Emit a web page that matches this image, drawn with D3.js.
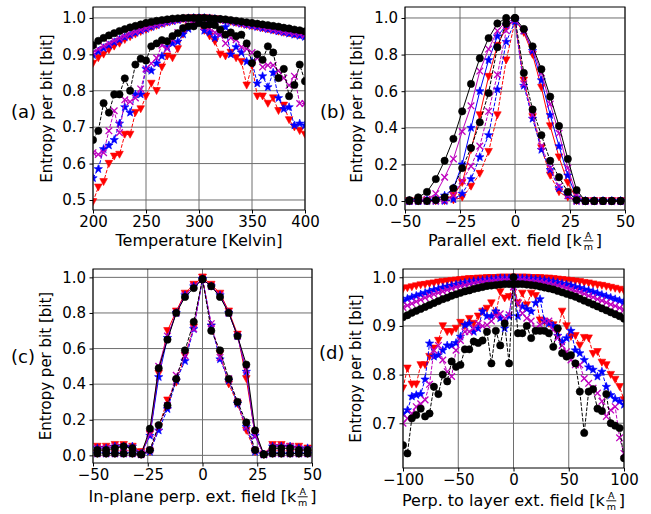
<!DOCTYPE html>
<html>
<head>
<meta charset="utf-8">
<script src="https://cdn.jsdelivr.net/npm/d3@7"></script>
<style>
  body { margin: 0; background: #fff; }
  svg { display: block; font-family: 'DejaVu Sans', sans-serif; }
</style>
</head>
<body>
<div id="chart"></div>
<script>
document.addEventListener('DOMContentLoaded', init, false);

var width = 651;
var height = 514;

// ---- panel (a): temperature sweep, 200..400 K every 5 K
var aTemp = d3.range(200, 401, 5);
var aRedUp = [0.875,0.89,0.90,0.912,0.922,0.93,0.94,0.948,0.955,0.962,0.968,0.974,0.979,0.984,0.988,0.992,0.995,0.997,0.999,1.0,1.0,1.0,0.999,0.997,0.995,0.993,0.99,0.987,0.984,0.981,0.978,0.975,0.972,0.969,0.966,0.963,0.96,0.958,0.955,0.953,0.95];
var aBlueUp = [0.898,0.908,0.917,0.925,0.933,0.94,0.947,0.953,0.959,0.965,0.97,0.975,0.98,0.984,0.988,0.991,0.994,0.997,0.999,1.0,1.0,1.0,0.999,0.997,0.995,0.993,0.99,0.987,0.984,0.981,0.978,0.975,0.972,0.969,0.966,0.963,0.96,0.957,0.954,0.951,0.948];
var aMagUp = [0.905,0.914,0.922,0.93,0.937,0.944,0.95,0.956,0.962,0.967,0.972,0.977,0.981,0.985,0.989,0.992,0.995,0.997,0.999,1.0,1.0,1.0,0.999,0.997,0.995,0.993,0.991,0.988,0.985,0.982,0.98,0.977,0.974,0.971,0.968,0.965,0.962,0.96,0.957,0.955,0.953];
var aBlackUp = [0.925,0.937,0.945,0.952,0.958,0.964,0.969,0.974,0.978,0.982,0.986,0.989,0.992,0.994,0.996,0.998,0.999,1.0,1.0,1.0,1.0,1.0,0.999,0.998,0.997,0.996,0.994,0.992,0.99,0.988,0.986,0.984,0.982,0.98,0.978,0.976,0.973,0.971,0.968,0.966,0.963];
var aRedLow = [0.495,0.535,0.55,0.60,0.62,0.625,0.68,0.68,0.74,0.75,0.785,0.82,0.80,0.865,0.895,0.89,0.915,0.955,0.975,0.985,0.99,0.965,0.95,0.935,0.90,0.895,0.905,0.89,0.88,0.815,0.87,0.785,0.785,0.765,0.78,0.745,0.76,0.72,0.70,0.69,0.68];
var aBlueLow = [0.56,0.585,0.64,0.65,0.665,0.71,0.755,0.74,0.79,0.79,0.86,0.855,0.875,0.895,0.92,0.93,0.935,0.955,0.97,0.98,0.985,0.965,0.96,0.945,0.955,0.975,0.90,0.92,0.905,0.88,0.88,0.82,0.84,0.81,0.85,0.78,0.75,0.755,0.705,0.71,0.705];
var aMagLow = [0.63,0.625,0.63,0.69,0.745,0.685,0.775,0.77,0.78,0.805,0.86,0.875,0.89,0.925,0.915,0.94,0.96,0.97,0.98,0.985,0.99,0.975,0.97,0.96,0.955,0.93,0.945,0.94,0.92,0.915,0.905,0.89,0.865,0.87,0.87,0.855,0.835,0.815,0.84,0.765,0.765];
var aBlackLow = [0.665,0.69,0.766,0.74,0.79,0.79,0.834,0.80,0.872,0.888,0.883,0.922,0.93,0.939,0.936,0.95,0.958,0.972,0.977,0.977,0.986,0.98,0.982,0.98,0.968,0.954,0.96,0.95,0.954,0.93,0.876,0.90,0.885,0.922,0.905,0.835,0.86,0.785,0.816,0.872,0.826];

// ---- panel (b): parallel field, -48..48 kA/m every 4
var bField = d3.range(-48, 49, 4);
var bRedWide = [0,0,0,0.005,0.01,0.03,0.1,0.28,0.47,0.68,0.85,0.95,0.99,0.92,0.80,0.62,0.41,0.24,0.10,0.01,0,0,0,0,0];
var bBlueWide = [0,0,0.005,0.01,0.03,0.07,0.2,0.4,0.6,0.77,0.9,0.96,0.99,0.93,0.82,0.66,0.47,0.30,0.14,0.02,0,0,0,0,0];
var bMagWide = [0,0.005,0.01,0.04,0.13,0.23,0.38,0.52,0.71,0.83,0.93,0.98,0.99,0.93,0.83,0.70,0.53,0.37,0.18,0.03,0,0,0,0,0];
var bBlackWide = [0.005,0.02,0.05,0.12,0.22,0.34,0.49,0.64,0.78,0.89,0.97,1.0,1.0,0.94,0.845,0.72,0.57,0.41,0.23,0.06,0,0,0,0,0];
var bRedNarrow = [0,0,0,0,0,0.005,0.02,0.08,0.15,0.27,0.47,0.77,0.98,0.66,0.46,0.29,0.14,0.05,0.02,0,0,0,0,0,0];
var bBlueNarrow = [0,0,0,0,0,0.01,0.04,0.12,0.24,0.36,0.61,0.87,0.98,0.63,0.45,0.28,0.17,0.07,0.03,0,0,0,0,0,0];
var bMagNarrow = [0,0,0,0,0.005,0.03,0.11,0.19,0.30,0.49,0.69,0.93,0.99,0.64,0.47,0.30,0.18,0.08,0.03,0,0,0,0,0,0];
var bBlackNarrow = [0,0,0,0.005,0.02,0.07,0.18,0.29,0.43,0.59,0.84,0.97,1.0,0.70,0.50,0.36,0.22,0.13,0.05,0.005,0,0,0,0,0];

// ---- panel (c): in-plane perpendicular field, -48..48 every 4
var cField = d3.range(-48, 49, 4);
var cRedWide = [0.05,0.05,0.06,0.06,0.05,0.02,0.12,0.46,0.70,0.81,0.91,0.96,1.0,0.96,0.91,0.81,0.68,0.43,0.12,0.005,0.06,0.06,0.05,0.05,0.04];
var cBlueWide = [0.04,0.04,0.05,0.05,0.05,0.01,0.11,0.44,0.66,0.80,0.90,0.95,0.99,0.95,0.90,0.80,0.67,0.47,0.11,0.005,0.05,0.05,0.05,0.04,0.04];
var cMagWide = [0.04,0.04,0.05,0.05,0.04,0.01,0.12,0.50,0.67,0.80,0.90,0.95,0.99,0.95,0.90,0.80,0.67,0.48,0.11,0.005,0.05,0.05,0.05,0.04,0.03];
var cBlackWide = [0.03,0.03,0.04,0.05,0.04,0.005,0.15,0.49,0.65,0.80,0.89,0.94,0.99,0.95,0.89,0.80,0.67,0.51,0.14,0.005,0.04,0.04,0.04,0.03,0.03];
var cRedNarrow = [0.01,0.01,0.01,0.01,0.01,0.005,0.02,0.16,0.31,0.41,0.56,0.72,1.0,0.72,0.57,0.40,0.29,0.14,0.02,0.005,0.01,0.01,0.01,0.01,0.01];
var cBlueNarrow = [0.01,0.01,0.01,0.01,0.01,0.005,0.02,0.14,0.26,0.42,0.53,0.71,0.99,0.73,0.54,0.42,0.29,0.16,0.02,0.005,0.01,0.01,0.01,0.01,0.01];
var cMagNarrow = [0.01,0.01,0.01,0.01,0.01,0.005,0.03,0.16,0.28,0.45,0.56,0.71,0.99,0.74,0.55,0.43,0.30,0.16,0.03,0.005,0.01,0.01,0.01,0.01,0.01];
var cBlackNarrow = [0.01,0.01,0.01,0.01,0.01,0.005,0.03,0.17,0.28,0.43,0.59,0.75,0.99,0.70,0.59,0.43,0.30,0.185,0.03,0.005,0.01,0.01,0.01,0.01,0.01];

// ---- panel (d): perpendicular-to-layer field, -100..100 every 4
var dField = d3.range(-100, 101, 4);
var dRedUp = [0.976,0.978,0.980,0.982,0.984,0.985,0.987,0.988,0.990,0.991,0.992,0.993,0.994,0.995,0.996,0.997,0.997,0.998,0.998,0.999,0.999,0.999,1,1,1,1,1,1,1,0.999,0.999,0.999,0.998,0.998,0.997,0.996,0.995,0.994,0.993,0.992,0.991,0.989,0.988,0.986,0.984,0.983,0.981,0.979,0.977,0.975,0.972];
var dBlueUp = [0.952,0.956,0.959,0.962,0.965,0.968,0.971,0.974,0.976,0.979,0.981,0.983,0.985,0.987,0.989,0.990,0.992,0.993,0.994,0.995,0.996,0.997,0.998,0.998,0.998,0.998,0.998,0.998,0.997,0.997,0.996,0.995,0.994,0.992,0.991,0.989,0.987,0.985,0.983,0.980,0.978,0.975,0.973,0.970,0.967,0.964,0.961,0.958,0.955,0.952,0.949];
var dMagUp = [0.938,0.942,0.946,0.950,0.954,0.958,0.962,0.965,0.968,0.971,0.974,0.977,0.980,0.982,0.984,0.986,0.988,0.990,0.991,0.992,0.993,0.994,0.995,0.995,0.995,0.995,0.995,0.995,0.994,0.993,0.992,0.991,0.989,0.987,0.985,0.983,0.981,0.978,0.975,0.972,0.969,0.966,0.962,0.959,0.955,0.952,0.948,0.944,0.941,0.937,0.933];
var dBlackUp = [0.918,0.922,0.927,0.931,0.935,0.939,0.943,0.947,0.951,0.955,0.958,0.962,0.965,0.968,0.971,0.973,0.976,0.978,0.980,0.982,0.983,0.984,0.985,0.986,0.986,0.986,0.986,0.986,0.985,0.984,0.983,0.981,0.979,0.977,0.975,0.972,0.969,0.966,0.963,0.960,0.956,0.952,0.948,0.944,0.940,0.936,0.932,0.928,0.924,0.920,0.915];
var dRedLow = [0.772,0.813,0.78,0.78,0.82,0.82,0.837,0.854,0.87,0.90,0.888,0.888,0.895,0.907,0.90,0.915,0.905,0.92,0.93,0.936,0.947,0.926,0.97,0.957,0.96,
  0.99,0.947,0.967,0.943,0.967,0.962,0.912,0.909,0.905,0.902,0.888,0.93,0.90,0.878,0.88,0.86,0.876,0.875,0.843,0.847,0.825,0.82,0.80,0.79,0.775,0.748];
var dBlueLow = [0.72,0.727,0.755,0.758,0.76,0.79,0.864,0.837,0.84,0.85,0.86,0.86,0.865,0.878,0.902,0.905,0.888,0.895,0.93,0.92,0.92,0.93,0.916,0.895,0.92,
  0.985,0.92,0.94,0.935,0.93,0.947,0.955,0.91,0.905,0.90,0.88,0.868,0.875,0.89,0.85,0.844,0.83,0.815,0.81,0.796,0.806,0.775,0.758,0.75,0.745,0.738];
var dMagLow = [0.70,0.71,0.72,0.734,0.74,0.748,0.78,0.85,0.86,0.83,0.806,0.796,0.85,0.87,0.888,0.888,0.895,0.905,0.90,0.902,0.91,0.92,0.925,0.915,0.923,
  0.98,0.947,0.926,0.916,0.91,0.895,0.902,0.91,0.91,0.892,0.875,0.86,0.847,0.83,0.82,0.82,0.792,0.782,0.772,0.762,0.745,0.714,0.727,0.734,0.67,0.638];
var dBlackLow = [0.655,0.638,0.71,0.717,0.73,0.714,0.72,0.775,0.76,0.80,0.786,0.827,0.816,0.82,0.852,0.852,0.868,0.865,0.87,0.888,0.823,0.89,0.86,0.905,0.823,
  1.0,0.885,0.885,0.90,0.875,0.89,0.89,0.89,0.885,0.857,0.895,0.844,0.837,0.84,0.823,0.765,0.68,0.765,0.77,0.73,0.725,0.76,0.70,0.695,0.69,0.628];

// colour / marker per series, in draw order
var styles = [
  { color: '#ff0000', marker: 'tri' },
  { color: '#0000ff', marker: 'star' },
  { color: '#bf00bf', marker: 'x' },
  { color: '#000000', marker: 'circle' }
];

function init() {

  var svg = d3.select('#chart')
    .append('svg')
      .attr('width', width)
      .attr('height', height)
      .attr('viewBox', '0 0 ' + width + ' ' + height);

  svg.append('rect').attr('width', width).attr('height', height).attr('fill', '#fff');

  var panels = [
    {
      id: 'a', letter: '(a)', lx: 11, ly: 118,
      box: { l: 93, r: 305, t: 7, b: 210 },
      xDomain: [200, 400], yDomain: [0.4725, 1.03],
      xTicks: [200, 250, 300, 350, 400], yTicks: [0.5, 0.6, 0.7, 0.8, 0.9, 1.0],
      ylx: 52, xlab: 'Temperature [Kelvin]', frac: false, xlb: 246,
      x: aTemp,
      solid: [aRedUp, aBlueUp, aMagUp, aBlackUp],
      dashed: [aRedLow, aBlueLow, aMagLow, aBlackLow]
    },
    {
      id: 'b', letter: '(b)', lx: 320, ly: 118,
      box: { l: 405, r: 625, t: 7, b: 210 },
      xDomain: [-50, 50], yDomain: [-0.049, 1.06],
      xTicks: [-50, -25, 0, 25, 50], yTicks: [0, 0.2, 0.4, 0.6, 0.8, 1.0],
      ylx: 362, xlab: 'Parallel ext. field [k', frac: true, xlb: 246,
      x: bField,
      solid: [bRedWide, bBlueWide, bMagWide, bBlackWide],
      dashed: [bRedNarrow, bBlueNarrow, bMagNarrow, bBlackNarrow]
    },
    {
      id: 'c', letter: '(c)', lx: 11, ly: 363,
      box: { l: 93, r: 312, t: 269, b: 463 },
      xDomain: [-50, 50], yDomain: [-0.043, 1.047],
      xTicks: [-50, -25, 0, 25, 50], yTicks: [0, 0.2, 0.4, 0.6, 0.8, 1.0],
      ylx: 51, xlab: 'In-plane perp. ext. field [k', frac: true, xlb: 502,
      x: cField,
      solid: [cRedWide, cBlueWide, cMagWide, cBlackWide],
      dashed: [cRedNarrow, cBlueNarrow, cMagNarrow, cBlackNarrow]
    },
    {
      id: 'd', letter: '(d)', lx: 319, ly: 359,
      box: { l: 403, r: 624, t: 269, b: 468 },
      xDomain: [-100, 100], yDomain: [0.608, 1.017],
      xTicks: [-100, -50, 0, 50, 100], yTicks: [0.7, 0.8, 0.9, 1.0],
      ylx: 361, xlab: 'Perp. to layer ext. field [k', frac: true, xlb: 506,
      x: dField,
      solid: [dRedUp, dBlueUp, dMagUp, dBlackUp],
      dashed: [dRedLow, dBlueLow, dMagLow, dBlackLow]
    }
  ];

  panels.forEach(function (p) { drawPanel(svg, p); });
}

function drawPanel(svg, p) {

  var b = p.box;
  var g = svg.append('g').attr('class', 'panel-' + p.id);

  var xScale = d3.scaleLinear().domain(p.xDomain).range([b.l, b.r]);
  var yScale = d3.scaleLinear().domain(p.yDomain).range([b.b, b.t]);

  // grid
  var grid = g.append('g').attr('stroke', '#6e6e6e').attr('stroke-width', 1);
  p.xTicks.forEach(function (t) {
    grid.append('line')
      .attr('x1', xScale(t)).attr('x2', xScale(t))
      .attr('y1', b.t).attr('y2', b.b);
  });
  p.yTicks.forEach(function (t) {
    grid.append('line')
      .attr('x1', b.l).attr('x2', b.r)
      .attr('y1', yScale(t)).attr('y2', yScale(t));
  });

  g.append('clipPath').attr('id', 'clip-' + p.id)
    .append('rect')
      .attr('x', b.l).attr('y', b.t)
      .attr('width', b.r - b.l).attr('height', b.b - b.t);

  var plot = g.append('g').attr('clip-path', 'url(#clip-' + p.id + ')');

  styles.forEach(function (s, i) {
    drawSeries(plot, p.x, p.solid[i], s, false, xScale, yScale);
    drawSeries(plot, p.x, p.dashed[i], s, true, xScale, yScale);
  });

  // frame
  g.append('rect')
    .attr('x', b.l).attr('y', b.t)
    .attr('width', b.r - b.l).attr('height', b.b - b.t)
    .attr('fill', 'none').attr('stroke', '#000').attr('stroke-width', 1);

  var xAxis = g.append('g')
    .attr('transform', 'translate(0,' + b.b + ')')
    .call(d3.axisBottom(xScale).tickValues(p.xTicks).tickSize(3.5).tickPadding(3)
      .tickFormat(d3.format('d')));

  var yAxis = g.append('g')
    .attr('transform', 'translate(' + b.l + ',0)')
    .call(d3.axisLeft(yScale).tickValues(p.yTicks).tickSize(3.5).tickPadding(3.5)
      .tickFormat(d3.format('.1f')));

  [xAxis, yAxis].forEach(function (ax) {
    ax.select('.domain').remove();
    ax.selectAll('text')
      .attr('font-family', "'DejaVu Sans', sans-serif")
      .attr('font-size', 15)
      .attr('fill', '#000');
  });

  // y label
  g.append('text')
    .attr('transform', 'translate(' + p.ylx + ',' + ((b.t + b.b) / 2) + ') rotate(-90)')
    .attr('text-anchor', 'middle')
    .attr('font-size', 15)
    .text('Entropy per bit [bit]');

  drawXLabel(g, p, (b.l + b.r) / 2, p.xlb);

  g.append('text')
    .attr('x', p.lx).attr('y', p.ly)
    .attr('font-size', 18)
    .text(p.letter);
}

function drawSeries(plot, xs, ys, s, dashed, xScale, yScale) {

  var pts = xs.map(function (x, i) { return [x, ys[i]]; });

  var line = d3.line()
    .x(function (d) { return xScale(d[0]); })
    .y(function (d) { return yScale(d[1]); });

  plot.append('path')
    .attr('d', line(pts))
    .attr('fill', 'none')
    .attr('stroke', s.color)
    .attr('stroke-width', 1)
    .attr('stroke-dasharray', dashed ? '3.7,1.6' : null);

  plot.append('g').selectAll('path')
    .data(pts)
    .enter()
    .append('path')
      .attr('transform', function (d) {
        return 'translate(' + xScale(d[0]) + ',' + yScale(d[1]) + ')';
      })
      .attr('d', markerPath(s.marker))
      .attr('fill', s.marker == 'x' ? 'none' : s.color)
      .attr('stroke', s.color)
      .attr('stroke-width', s.marker == 'x' ? 1.3 : 0.6);
}

function markerPath(type) {

  if (type == 'circle') {
    return d3.symbol().type(d3.symbolCircle).size(42)();
  }
  if (type == 'tri') {
    return 'M-3.8,-3.2L3.8,-3.2L0,3.8Z';
  }
  if (type == 'x') {
    return 'M-3.3,-3.3L3.3,3.3M-3.3,3.3L3.3,-3.3';
  }
  // five point star
  var pts = [];
  for (var k = 0; k < 10; k++) {
    var r = k % 2 === 0 ? 4.4 : 1.8;
    var a = -Math.PI / 2 + k * Math.PI / 5;
    pts.push([r * Math.cos(a), r * Math.sin(a)]);
  }
  return 'M' + pts.map(function (q) { return q[0].toFixed(2) + ',' + q[1].toFixed(2); }).join('L') + 'Z';
}

function drawXLabel(g, p, cx, baseline) {

  var lab = g.append('g');
  var main = lab.append('text')
    .attr('x', 0).attr('y', baseline)
    .attr('font-size', 16)
    .text(p.xlab);

  if (!p.frac) {
    main.attr('x', cx).attr('text-anchor', 'middle');
    return;
  }

  // small A over m fraction after "[k"
  var w = main.node().getComputedTextLength();
  var fx = w + 6.5;

  lab.append('text')
    .attr('x', fx).attr('y', baseline - 7.5)
    .attr('text-anchor', 'middle')
    .attr('font-size', 9.5)
    .text('A');
  lab.append('line')
    .attr('x1', fx - 5).attr('x2', fx + 5)
    .attr('y1', baseline - 5.2).attr('y2', baseline - 5.2)
    .attr('stroke', '#000').attr('stroke-width', 0.9);
  lab.append('text')
    .attr('x', fx).attr('y', baseline + 4.2)
    .attr('text-anchor', 'middle')
    .attr('font-size', 9.5)
    .text('m');
  var close = lab.append('text')
    .attr('x', fx + 7.5).attr('y', baseline)
    .attr('font-size', 16)
    .text(']');

  var total = fx + 7.5 + close.node().getComputedTextLength();
  lab.attr('transform', 'translate(' + (cx - total / 2) + ',0)');
}
</script>
</body>
</html>
